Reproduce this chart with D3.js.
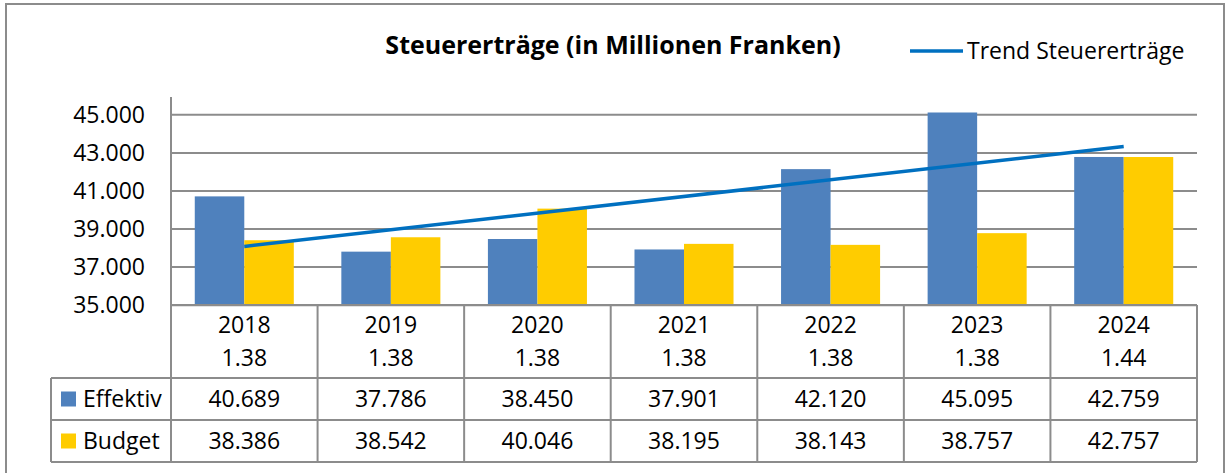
<!DOCTYPE html>
<html lang="de">
    <head>
        <meta charset="utf-8">
        <title>Steuererträge</title>
        <script type="text/javascript" src="https://cdn.jsdelivr.net/npm/d3@7"></script>
        <style type="text/css">
            body { margin: 0; background: #fff; }
            text { font-family: "Open Sans", "Noto Sans", sans-serif; fill: #000; }
        </style>
    </head>
    <body>
        <script type="text/javascript">
            //Chart data
            var years = ["2018", "2019", "2020", "2021", "2022", "2023", "2024"];
            var rates = ["1.38", "1.38", "1.38", "1.38", "1.38", "1.38", "1.44"];
            var effektiv = [40689, 37786, 38450, 37901, 42120, 45095, 42759];
            var budget = [38386, 38542, 40046, 38195, 38143, 38757, 42757];
            var seriesNames = ["Effektiv", "Budget"];
            var yTicks = [35000, 37000, 39000, 41000, 43000, 45000];
            //Trend line end points (2018 and 2024)
            var trendYears = ["2018", "2024"];
            var trendValues = [38060, 43310];

            var w = 1228;
            var h = 473;
            var colors = {Effektiv: "#4F81BD", Budget: "#FFCC00"};
            var gridColor = "#8c8c8c";

            var de = d3.formatLocale({decimal: ",", thousands: ".", grouping: [3], currency: ["", ""]});
            var fmt = de.format(",d");

            var svg = d3.select("body")
                        .append("svg")
                        .attr("width", w)
                        .attr("height", h);

            //Outer frame
            svg.append("rect")
                .attr("x", 6).attr("y", 4)
                .attr("width", 1218).attr("height", 480)
                .attr("fill", "none")
                .attr("stroke", "#8c8c8c")
                .attr("stroke-width", 2);

            //Scales
            var xScale = d3.scaleBand()
                            .domain(years)
                            .range([171, 1197]);

            var xInner = d3.scaleBand()
                            .domain(seriesNames)
                            .range([0, xScale.bandwidth()])
                            .paddingInner(0)
                            .paddingOuter(0.48);

            var yScale = d3.scaleLinear()
                            .domain([35000, 45000])
                            .range([304.7, 114.3]);

            //Gridlines
            var grid = svg.append("g")
                .attr("transform", "translate(171,0)")
                .call(d3.axisLeft(yScale).tickValues(yTicks).tickSize(-1026).tickFormat(""));
            grid.select(".domain").remove();
            grid.selectAll("line").attr("stroke", gridColor).attr("stroke-width", 2);

            //Y labels
            var yAxis = svg.append("g")
                .attr("transform", "translate(171,0)")
                .call(d3.axisLeft(yScale).tickValues(yTicks).tickSize(0).tickPadding(26).tickFormat(fmt));
            yAxis.select(".domain").remove();
            yAxis.selectAll("text")
                .attr("font-size", "23px")
                .attr("font-family", "'Open Sans', sans-serif")
                .attr("dy", "0.35em");

            //Bars
            var rows = years.map(function(y, i) {
                return {year: y, Effektiv: effektiv[i], Budget: budget[i]};
            });

            svg.append("g")
                .selectAll("g")
                .data(rows)
                .enter()
                .append("g")
                .attr("transform", function(d) { return "translate(" + xScale(d.year) + ",0)"; })
                .selectAll("rect")
                .data(function(d) { return seriesNames.map(function(k) { return {key: k, value: d[k]}; }); })
                .enter()
                .append("rect")
                .attr("x", function(d) { return xInner(d.key); })
                .attr("width", xInner.bandwidth())
                .attr("y", function(d) { return yScale(d.value); })
                .attr("height", function(d) { return yScale(35000) - yScale(d.value); })
                .attr("fill", function(d) { return colors[d.key]; });

            //Vertical axis line
            svg.append("line")
                .attr("x1", 171).attr("x2", 171)
                .attr("y1", 97).attr("y2", 462)
                .attr("stroke", gridColor).attr("stroke-width", 2);

            //Trend line
            var line = d3.line()
                .x(function(d) { return xScale(d[0]) + xScale.bandwidth() / 2; })
                .y(function(d) { return yScale(d[1]); });

            svg.append("path")
                .datum(trendYears.map(function(y, i) { return [y, trendValues[i]]; }))
                .attr("d", line)
                .attr("fill", "none")
                .attr("stroke", "#0070C0")
                .attr("stroke-width", 3.5);

            //Title
            svg.append("text")
                .attr("x", 613).attr("y", 45)
                .attr("dy", "0.35em")
                .attr("text-anchor", "middle")
                .attr("font-size", "25px")
                .attr("font-weight", "bold")
                .text("Steuererträge (in Millionen Franken)");

            //Legend
            svg.append("line")
                .attr("x1", 910).attr("x2", 963)
                .attr("y1", 51).attr("y2", 51)
                .attr("stroke", "#0070C0")
                .attr("stroke-width", 3.5);
            svg.append("text")
                .attr("x", 967).attr("y", 51)
                .attr("dy", "0.35em")
                .attr("font-size", "23px")
                .text("Trend Steuererträge");

            //Data table
            var table = svg.append("g");
            var rowTop = [305, 378, 420, 462];
            var tableLines = [
                [171, 305, 1197, 305],
                [51, 378, 1197, 378],
                [51, 420, 1197, 420],
                [51, 462, 1197, 462],
                [51, 378, 51, 462]
            ];
            years.forEach(function(y) {
                tableLines.push([xScale(y) + xScale.bandwidth(), 305, xScale(y) + xScale.bandwidth(), 462]);
            });
            table.selectAll("line")
                .data(tableLines)
                .enter()
                .append("line")
                .attr("x1", function(d) { return d[0]; })
                .attr("y1", function(d) { return d[1]; })
                .attr("x2", function(d) { return d[2]; })
                .attr("y2", function(d) { return d[3]; })
                .attr("stroke", gridColor)
                .attr("stroke-width", 2);

            //Category labels
            var cx = function(y) { return xScale(y) + xScale.bandwidth() / 2; };
            table.selectAll("text.year")
                .data(years)
                .enter()
                .append("text")
                .attr("class", "year")
                .attr("x", cx)
                .attr("y", 325)
                .attr("dy", "0.35em")
                .attr("text-anchor", "middle")
                .attr("font-size", "23px")
                .text(function(d) { return d; });
            table.selectAll("text.rate")
                .data(years)
                .enter()
                .append("text")
                .attr("class", "rate")
                .attr("x", cx)
                .attr("y", 358)
                .attr("dy", "0.35em")
                .attr("text-anchor", "middle")
                .attr("font-size", "23px")
                .text(function(d, i) { return rates[i]; });

            //Value rows
            var seriesValues = {Effektiv: effektiv, Budget: budget};
            seriesNames.forEach(function(name, r) {
                var mid = (rowTop[r + 1] + rowTop[r + 2]) / 2;
                table.append("rect")
                    .attr("x", 61).attr("y", mid - 7.5)
                    .attr("width", 15).attr("height", 15)
                    .attr("fill", colors[name]);
                table.append("text")
                    .attr("x", 83).attr("y", mid)
                    .attr("dy", "0.35em")
                    .attr("font-size", "23px")
                    .text(name);
                table.selectAll("text.v" + r)
                    .data(seriesValues[name])
                    .enter()
                    .append("text")
                    .attr("class", "v" + r)
                    .attr("x", function(d, i) { return cx(years[i]); })
                    .attr("y", mid)
                    .attr("dy", "0.35em")
                    .attr("text-anchor", "middle")
                    .attr("font-size", "23px")
                    .text(function(d) { return fmt(d); });
            });
        </script>
    </body>
</html>
